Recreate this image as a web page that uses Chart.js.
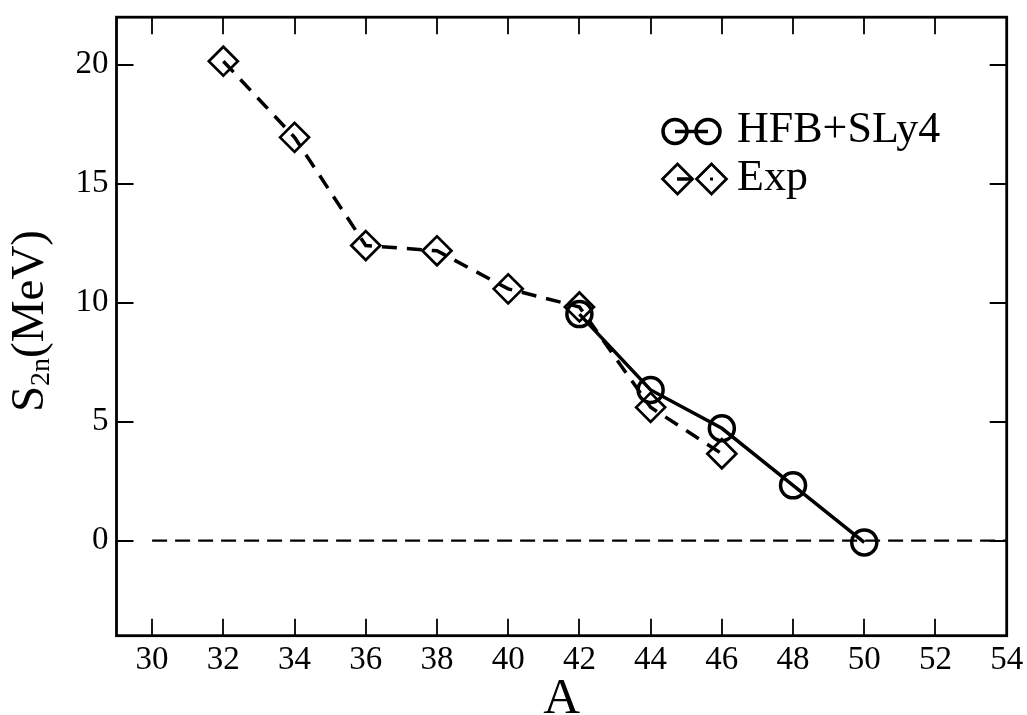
<!DOCTYPE html>
<html>
<head>
<meta charset="utf-8">
<title>S2n vs A</title>
<script src="https://cdn.jsdelivr.net/npm/chart.js@4/dist/chart.umd.min.js"></script>
<style>
  html, body { margin: 0; padding: 0; background: #fff; }
  canvas { display: block; }
</style>
</head>
<body>
<canvas id="s2nChart" width="1027" height="715"></canvas>
<script>
// --- data -------------------------------------------------------------
const massA = [32, 34, 36, 38, 40, 42, 44, 46];
const expS2n = [20.15, 16.95, 12.4, 12.18, 10.58, 9.82, 5.6, 3.65];

const hfbA = [42, 44, 46, 48, 50];
const hfbS2n = [9.52, 6.33, 4.72, 2.32, -0.08];

const zeroLineA = [30, 54];
const zeroLineS2n = [0, 0];

const xTicks = [30, 32, 34, 36, 38, 40, 42, 44, 46, 48, 50, 52, 54];
const yTicks = [0, 5, 10, 15, 20];

const SERIF = "'Liberation Serif', 'DejaVu Serif', 'Times New Roman', serif";

const toPoints = (xs, ys) => xs.map((x, i) => ({ x: x, y: ys[i] }));

// frame, inward ticks on all four sides, axis titles and the legend box
const framePlugin = {
    id: 'frame',
    afterDraw(chart) {
        const { ctx, chartArea: a, scales } = chart;
        const tick = 17;
        ctx.save();
        ctx.strokeStyle = '#000';

        ctx.lineWidth = 1.8;
        ctx.beginPath();
        xTicks.forEach(v => {
            const px = Math.round(scales.x.getPixelForValue(v));
            ctx.moveTo(px, a.bottom); ctx.lineTo(px, a.bottom - tick);
            ctx.moveTo(px, a.top); ctx.lineTo(px, a.top + tick);
        });
        yTicks.forEach(v => {
            const py = Math.round(scales.y.getPixelForValue(v));
            ctx.moveTo(a.left, py); ctx.lineTo(a.left + tick, py);
            ctx.moveTo(a.right, py); ctx.lineTo(a.right - tick, py);
        });
        ctx.stroke();

        ctx.lineWidth = 2.8;
        ctx.strokeRect(a.left, a.top, a.right - a.left, a.bottom - a.top);

        // x title
        ctx.fillStyle = '#000';
        ctx.font = '51px ' + SERIF;
        ctx.textAlign = 'center';
        ctx.textBaseline = 'alphabetic';
        ctx.fillText('A', (a.left + a.right) / 2, 713);

        // y title with subscript, rotated
        const mainFont = '47px ' + SERIF;
        const subFont = '28px ' + SERIF;
        ctx.font = mainFont;
        const wS = ctx.measureText('S').width;
        const wM = ctx.measureText('(MeV)').width;
        ctx.font = subFont;
        const w2 = ctx.measureText('2n').width;
        const total = wS + w2 + wM;
        ctx.translate(43, 321);
        ctx.rotate(-Math.PI / 2);
        ctx.textAlign = 'left';
        let tx = -total / 2;
        ctx.font = mainFont;
        ctx.fillText('S', tx, 0);
        tx += wS;
        ctx.font = subFont;
        ctx.fillText('2n', tx, 6);
        tx += w2;
        ctx.font = mainFont;
        ctx.fillText('(MeV)', tx, 0);
        ctx.setTransform(1, 0, 0, 1, 0, 0);

        // legend
        ctx.font = '44px ' + SERIF;
        ctx.textAlign = 'left';

        // HFB+SLy4 row
        ctx.lineWidth = 3.5;
        ctx.setLineDash([]);
        ctx.beginPath();
        ctx.moveTo(675, 131.5); ctx.lineTo(708, 131.5);
        ctx.stroke();
        [675, 708].forEach(cx => {
            ctx.beginPath();
            ctx.arc(cx, 131.5, 12, 0, Math.PI * 2);
            ctx.stroke();
        });
        ctx.fillText('HFB+SLy4', 737, 142);

        // Exp row
        ctx.lineWidth = 3.5;
        ctx.beginPath();
        ctx.moveTo(677, 179); ctx.lineTo(693, 179);
        ctx.stroke();
        ctx.lineWidth = 2.7;
        [677.5, 711.5].forEach(cx => {
            ctx.beginPath();
            ctx.moveTo(cx - 15, 179); ctx.lineTo(cx, 164);
            ctx.lineTo(cx + 15, 179); ctx.lineTo(cx, 194);
            ctx.closePath();
            ctx.stroke();
        });
        ctx.fillRect(710, 177.5, 3, 3);
        ctx.fillText('Exp', 737, 190);

        ctx.restore();
    }
};

new Chart(document.getElementById('s2nChart'), {
    type: 'line',
    data: {
        datasets: [
            {
                label: 'HFB+SLy4',
                data: toPoints(hfbA, hfbS2n),
                borderColor: '#000',
                borderWidth: 3.5,
                tension: 0,
                pointStyle: 'circle',
                pointRadius: 12.5,
                pointBorderWidth: 3.5,
                pointBackgroundColor: 'rgba(0,0,0,0)',
                pointBorderColor: '#000',
                order: 0,
            },
            {
                label: 'Exp',
                data: toPoints(massA, expS2n),
                borderColor: '#000',
                borderWidth: 3.5,
                borderDash: [15, 10],
                tension: 0,
                pointStyle: 'rectRot',
                pointRadius: 14.5,
                pointBorderWidth: 2.7,
                pointBackgroundColor: 'rgba(0,0,0,0)',
                pointBorderColor: '#000',
                order: 1,
            },
            {
                label: 'zero',
                data: toPoints(zeroLineA, zeroLineS2n),
                borderColor: '#000',
                borderWidth: 2.3,
                borderDash: [15, 8],
                pointRadius: 0,
                tension: 0,
                order: 2,
            },
        ],
    },
    options: {
        responsive: false,
        animation: false,
        events: [],
        layout: { padding: { top: 12.7, right: 20.3, left: 0, bottom: 0 } },
        plugins: {
            legend: { display: false },
            tooltip: { enabled: false },
        },
        scales: {
            x: {
                type: 'linear',
                min: 29,
                max: 54,
                afterBuildTicks: s => { s.ticks = xTicks.map(v => ({ value: v })); },
                afterFit: s => { s.height = 79.3; s.paddingLeft = 0; s.paddingRight = 0; },
                grid: { display: false, drawTicks: false },
                border: { display: false },
                ticks: {
                    color: '#000',
                    padding: 5,
                    maxRotation: 0,
                    autoSkip: false,
                    font: { family: SERIF, size: 33 },
                },
            },
            y: {
                type: 'linear',
                min: -4,
                max: 22,
                afterBuildTicks: s => { s.ticks = yTicks.map(v => ({ value: v })); },
                afterFit: s => { s.width = 116.5; s.paddingTop = 0; s.paddingBottom = 0; },
                grid: { display: false, drawTicks: false },
                border: { display: false },
                ticks: {
                    color: '#000',
                    padding: 8,
                    autoSkip: false,
                    font: { family: SERIF, size: 33 },
                },
            },
        },
    },
    plugins: [framePlugin],
});
</script>
</body>
</html>
